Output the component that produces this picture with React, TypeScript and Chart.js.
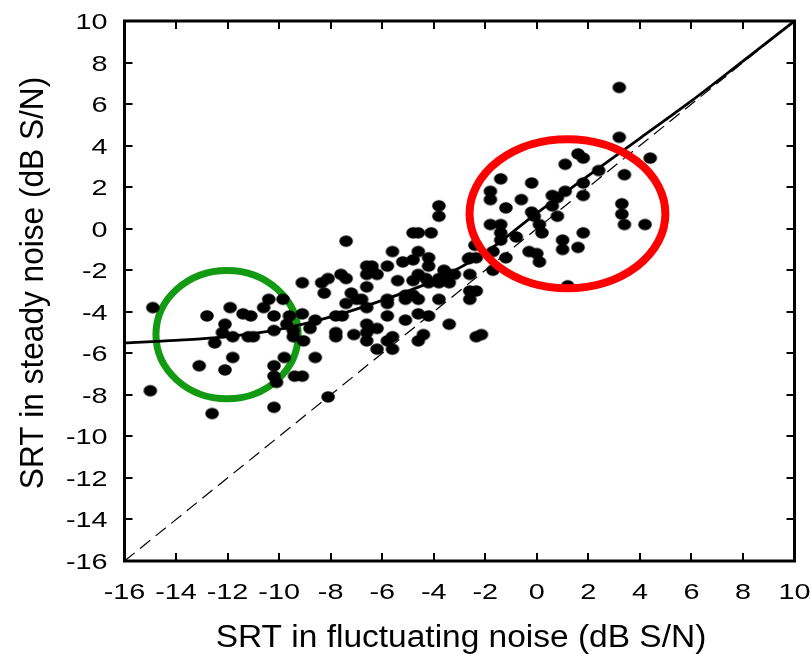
import React, { useEffect, useRef } from "react";
import { Chart, registerables } from "chart.js";

Chart.register(...registerables);

// ---- data ----
const xTicks = [-16, -14, -12, -10, -8, -6, -4, -2, 0, 2, 4, 6, 8, 10];
const yTicks = [-16, -14, -12, -10, -8, -6, -4, -2, 0, 2, 4, 6, 8, 10];
const xTickLabels = ["-16", "-14", "-12", "-10", "-8", "-6", "-4", "-2", "0", "2", "4", "6", "8", "10"];
const yTickLabels = ["-16", "-14", "-12", "-10", "-8", "-6", "-4", "-2", "0", "2", "4", "6", "8", "10"];
const xTitle = "SRT in fluctuating noise (dB S/N)";
const yTitle = "SRT in steady noise (dB S/N)";

// SRT in fluctuating noise (x) and in steady noise (y) per listener
const fluctuating = [
  -14.9, -15.0, -12.8, -11.9, -12.1, -12.2, -12.5, -11.8, -11.8, -12.1, -13.1, -12.6,
  -11.4, -11.1, -11.2, -11.0, -10.6, -10.4, -10.2, -10.2, -9.85, -9.6, -9.7, -9.45,
  -9.45, -9.8, -10.2, -10.2, -10.1, -10.2, -9.4, -9.1, -9.1, -9.05, -8.8, -8.6,
  -8.6, -9.1, -8.35, -8.1, -8.25, -8.1, -7.8, -7.55, -7.8, -7.8, -7.6, -7.4,
  -7.4, -7.4, -7.2, -7.0, -7.1, -6.8, -6.6, -6.4, -6.6, -6.4, -6.2, -6.6,
  -6.6, -6.6, -6.6, -6.6, -6.2, -6.2, -5.8, -5.6, -5.4, -5.8, -5.8, -5.8,
  -5.8, -5.6, -5.6, -5.2, -5.1, -5.1, -5.1, -4.8, -4.6, -4.8, -4.6, -4.8,
  -4.6, -4.8, -4.6, -4.6, -4.6, -4.4, -4.3, -4.2, -4.2, -4.1, -4.2, -4.2,
  -3.8, -3.8, -3.8, -3.8, -3.8, -3.6, -3.4, -3.4, -3.4, -3.2, -2.6, -2.6,
  -2.6, -2.6, -2.35, -2.35, -2.15, -2.4, -2.35,
  3.2, 3.2, 4.4, 3.4, 3.3, 3.3, 3.4, 4.2, 1.6, 1.8, 1.1, 2.4,
  1.8, 1.8, 1.1, 0.6, 0.8, 0.6, 0.8, 1.8, 1.0, 1.0, 1.6, 1.2,
  -0.2, -0.6, -0.2, -0.1, 0.1, 0.2, -0.3, 0.0, 0.1, -0.8, -1.4, -1.8,
  -1.8, -1.2, -1.8, -1.4, -1.4, -1.4, -1.2, -1.7, -1.7, -2.65,
];
const steady = [
  -3.8, -7.8, -4.2, -3.8, -4.6, -5.0, -5.5, -5.2, -6.2, -6.8, -6.6, -8.9,
  -4.1, -4.2, -5.2, -5.2, -3.8, -3.4, -4.2, -4.9, -3.4, -4.2, -4.6, -4.9,
  -5.2, -6.2, -6.6, -7.1, -7.4, -8.6, -7.1, -7.1, -4.1, -5.4, -4.8, -4.4,
  -6.2, -2.6, -2.6, -2.4, -3.1, -8.1, -4.2, -4.2, -5.0, -5.2, -2.2, -2.4,
  -0.6, -3.6, -3.1, -3.4, -5.1, -3.4, -1.8, -1.8, -2.2, -2.0, -2.2, -2.8,
  -3.8, -4.6, -5.0, -5.4, -4.8, -5.8, -1.8, -1.1, -2.5, -3.4, -3.6, -4.2,
  -5.4, -5.2, -5.8, -1.6, -3.2, -3.4, -4.4, -0.2, -0.2, -1.5, -1.1, -2.5,
  -2.2, -3.2, -3.4, -4.1, -5.4, -5.1, -2.4, -1.4, -1.8, -0.2, -2.6, -4.2,
  1.1, 0.6, -2.4, -2.6, -3.4, -2.0, -2.2, -2.6, -4.6, -2.2, -2.2, -1.4,
  -3.0, -3.4, -3.0, -5.2, -5.1, -0.8, -1.4,
  6.8, 4.4, 3.4, 2.6, 1.2, 0.7, 0.2, 0.2, 3.6, 3.4, 3.1, 2.8,
  2.2, 1.6, 1.8, 1.6, 1.5, 1.1, 0.6, -0.2, -0.55, -1.0, -0.9, -2.75,
  2.2, 1.4, 0.8, 0.6, 0.2, -0.2, -1.1, -1.2, -1.6, -0.4, 2.4, 1.8,
  1.4, 1.0, 0.2, 0.2, -0.2, -0.55, -1.4, -1.1, -2.0, -1.45,
];

// fitted curve
const fitX = [-16, -14, -12, -10, -8, -6, -4, -2, 0, 2, 4, 6, 8, 10];
const fitY = [-5.5, -5.38, -5.2, -4.85, -4.25, -3.45, -2.5, -1.15, 0.75, 2.55, 4.35, 6.15, 8.07, 10];

// identity line
const identityX = [-16, 10];
const identityY = [-16, 10];

// highlighted groups (centre x, centre y, radius x, radius y in dB)
const greenGroup = [-12.02, -5.1, 2.76, 3.09];
const redGroup = [1.19, 0.72, 3.8, 3.59];

const FONT = "'Liberation Sans', Arial, sans-serif";

function drawEllipse(chart: any, g: number[], color: string, lw: number) {
  const { ctx, scales } = chart;
  const cx = scales.x.getPixelForValue(g[0]);
  const cy = scales.y.getPixelForValue(g[1]);
  const rx = Math.abs(scales.x.getPixelForValue(g[0] + g[2]) - cx);
  const ry = Math.abs(scales.y.getPixelForValue(g[1] + g[3]) - cy);
  ctx.save();
  ctx.strokeStyle = color;
  ctx.lineWidth = lw;
  ctx.beginPath();
  ctx.ellipse(cx, cy, rx, ry, 0, 0, Math.PI * 2);
  ctx.stroke();
  ctx.restore();
}

const framePlugin = {
  id: "frame",
  beforeDatasetsDraw(chart: any) {
    drawEllipse(chart, greenGroup, "#139a13", 7);
  },
  afterDatasetsDraw(chart: any) {
    drawEllipse(chart, redGroup, "#fe0000", 8);
  },
  afterDraw(chart: any) {
    const { ctx, chartArea: a, scales } = chart;
    const xs = scales.x;
    const ys = scales.y;
    ctx.save();
    // frame
    ctx.strokeStyle = "#000";
    ctx.lineWidth = 3;
    ctx.strokeRect(a.left, a.top, a.right - a.left, a.bottom - a.top);
    // inward ticks
    ctx.lineWidth = 2;
    const tl = 8;
    ctx.beginPath();
    xTicks.forEach((v) => {
      if (v === xs.min || v === xs.max) return;
      const px = Math.round(xs.getPixelForValue(v));
      ctx.moveTo(px, a.bottom);
      ctx.lineTo(px, a.bottom - tl);
      ctx.moveTo(px, a.top);
      ctx.lineTo(px, a.top + tl);
    });
    yTicks.forEach((v) => {
      if (v === ys.min || v === ys.max) return;
      const py = Math.round(ys.getPixelForValue(v));
      ctx.moveTo(a.left, py);
      ctx.lineTo(a.left + tl, py);
      ctx.moveTo(a.right, py);
      ctx.lineTo(a.right - tl, py);
    });
    ctx.stroke();
    // tick labels (wide lettering as in the figure)
    ctx.fillStyle = "#000";
    ctx.font = `22.5px ${FONT}`;
    ctx.textBaseline = "alphabetic";
    ctx.textAlign = "center";
    xTicks.forEach((v, i) => {
      const px = xs.getPixelForValue(v);
      ctx.save();
      ctx.translate(px, a.bottom + 38);
      ctx.scale(1.28, 1);
      ctx.fillText(xTickLabels[i], 0, 0);
      ctx.restore();
    });
    ctx.textAlign = "right";
    yTicks.forEach((v, i) => {
      const py = ys.getPixelForValue(v);
      ctx.save();
      ctx.translate(a.left - 17, py + 8);
      ctx.scale(1.28, 1);
      ctx.fillText(yTickLabels[i], 0, 0);
      ctx.restore();
    });
    // axis titles
    ctx.font = `31px ${FONT}`;
    ctx.textAlign = "center";
    ctx.save();
    ctx.translate(461, 647);
    ctx.scale(1.08, 1);
    ctx.fillText(xTitle, 0, 0);
    ctx.restore();
    ctx.save();
    ctx.translate(43, 283);
    ctx.rotate(-Math.PI / 2);
    ctx.scale(1.02, 1.1);
    ctx.fillText(yTitle, 0, 0);
    ctx.restore();
    ctx.restore();
  },
};

function makeDot(): HTMLCanvasElement {
  const c = document.createElement("canvas");
  c.width = 16;
  c.height = 14;
  const g = c.getContext("2d")!;
  g.fillStyle = "#000";
  g.beginPath();
  g.ellipse(8, 7, 6.8, 5.7, 0, 0, Math.PI * 2);
  g.fill();
  return c;
}

export default function App() {
  const ref = useRef<HTMLCanvasElement | null>(null);
  useEffect(() => {
    if (!ref.current) return;
    const dot = makeDot();
    const points = fluctuating.map((x, i) => ({ x, y: steady[i] }));
    const fit = fitX.map((x, i) => ({ x, y: fitY[i] }));
    const ident = identityX.map((x, i) => ({ x, y: identityY[i] }));
    const chart = new Chart(ref.current, {
      type: "scatter",
      data: {
        datasets: [
          {
            label: "listeners",
            data: points,
            pointStyle: dot as any,
            pointRadius: 7,
            backgroundColor: "#000",
            borderColor: "#000",
            order: 1,
          },
          {
            label: "fit",
            data: fit,
            showLine: true,
            borderColor: "#000",
            borderWidth: 2.8,
            pointRadius: 0,
            cubicInterpolationMode: "monotone",
            order: 2,
          } as any,
          {
            label: "identity",
            data: ident,
            showLine: true,
            borderColor: "#000",
            borderWidth: 1.2,
            borderDash: [13, 7],
            pointRadius: 0,
            order: 3,
          },
        ],
      },
      options: {
        animation: false,
        responsive: false,
        devicePixelRatio: 1,
        events: [],
        layout: { padding: { left: 124.5, right: 17.5, top: 21, bottom: 93 } },
        plugins: { legend: { display: false }, tooltip: { enabled: false } },
        scales: {
          x: { type: "linear", min: -16, max: 10, display: false },
          y: { type: "linear", min: -16, max: 10, display: false },
        },
      },
      plugins: [framePlugin],
    });
    return () => chart.destroy();
  }, []);
  return (
    <div style={{ position: "fixed", left: 0, top: 0, width: 812, height: 654, background: "#fff" }}>
      <canvas ref={ref} width={812} height={654} style={{ display: "block", width: 812, height: 654 }} />
    </div>
  );
}
